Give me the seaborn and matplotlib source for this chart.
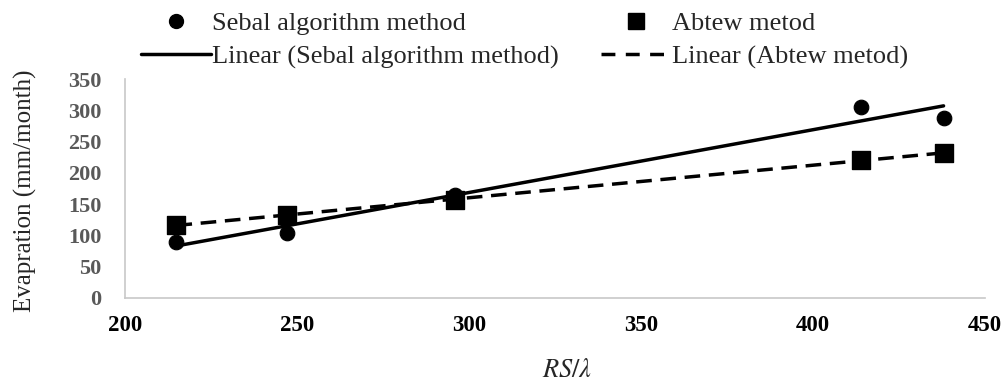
import matplotlib
matplotlib.use("Agg")
import matplotlib.pyplot as plt
from matplotlib.lines import Line2D
import seaborn as sns
import numpy as np
import pandas as pd

# values
rs_lambda = [215, 247, 296, 414, 438]
sebal = [90, 104, 165, 306, 288]
abtew = [117, 132, 157, 220, 232]

sns.set_style("white")
plt.rcParams["font.family"] = ["Liberation Serif", "DejaVu Serif"]
plt.rcParams["mathtext.fontset"] = "stix"

df = pd.DataFrame({"x": rs_lambda, "sebal": sebal, "abtew": abtew})

# linear trendlines over the data range
x_fit = np.array([min(rs_lambda), max(rs_lambda)])
fit_sebal = np.polyval(np.polyfit(rs_lambda, sebal, 1), x_fit)
fit_abtew = np.polyval(np.polyfit(rs_lambda, abtew, 1), x_fit)

fig = plt.figure(figsize=(10.07, 3.8), dpi=100)
ax = fig.add_axes([0.124, 0.216, 0.854, 0.576])

sns.lineplot(x=x_fit, y=fit_sebal, color="black", lw=2.5, ax=ax)
sns.lineplot(x=x_fit, y=fit_abtew, color="black", lw=2.5, ax=ax,
             linestyle=(0, (4.5, 2.5)))
sns.scatterplot(data=df, x="x", y="sebal", marker="o", s=110, color="black",
                edgecolor="black", ax=ax, zorder=3)
sns.scatterplot(data=df, x="x", y="abtew", marker="s", s=150, color="black",
                edgecolor="black", ax=ax, zorder=3)

ax.set_xlim(200, 450)
ax.set_ylim(0, 350)
ax.set_xticks(range(200, 451, 50))
ax.set_yticks(range(0, 351, 50))
ax.tick_params(axis="y", length=0, pad=17)
ax.tick_params(axis="x", length=0, pad=12)
for lab in ax.get_xticklabels():
    lab.set_fontweight("bold")
    lab.set_fontsize(16.5)
    lab.set_color("black")
for lab in ax.get_yticklabels():
    lab.set_fontweight("bold")
    lab.set_fontsize(16)
    lab.set_color("#595959")

ax.set_xlabel(r"$RS/\lambda$", fontsize=19, va="center")
ax.xaxis.set_label_coords(0.514, -0.33)
ax.set_ylabel("Evapration (mm/month)", fontsize=18, va="center")
ax.yaxis.set_label_coords(-0.116, 0.49)

sns.despine(ax=ax)
for side in ["left", "bottom"]:
    ax.spines[side].set_color("#C8C8C8")
    ax.spines[side].set_linewidth(1.2)

handles = [
    Line2D([], [], marker="o", ls="none", color="black", markersize=10),
    Line2D([], [], color="black", lw=2.5),
    Line2D([], [], marker="s", ls="none", color="black", markersize=12),
    Line2D([], [], color="black", lw=2.5, linestyle=(0, (4, 3))),
]
labels = ["Sebal algorithm method", "Linear (Sebal algorithm method)",
          "Abtew metod", "Linear (Abtew metod)"]
fig.legend(handles, labels, ncol=2, loc="upper left",
           bbox_to_anchor=(0.137, 0.976), frameon=False, fontsize=19,
           borderpad=0.1, borderaxespad=0,
           handlelength=2.65, handletextpad=0.05, columnspacing=1.6,
           labelspacing=0.37)

fig.savefig("out.png", dpi=100)
